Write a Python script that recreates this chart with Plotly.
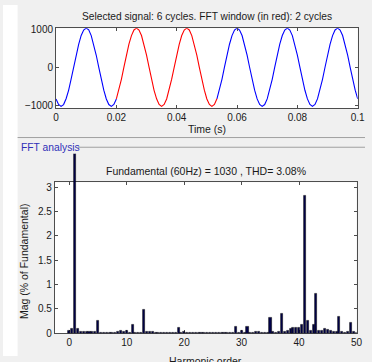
import numpy as np
import plotly.graph_objects as go

# ---------------- data ----------------
# signal sampled every 1/1200 s over 0..0.1 s (6 cycles of 60 Hz)
sample_step = 1.0 / 1200
signal = [
    -838, -978, -1029, -983, -830, -607, -314, 4, 320, 603, 836, 977, 1031, 982, 831, 607, 315, -3, -320, -603,
    -835, -982, -1030, -979, -834, -603, -319, 2, 316, 607, 832, 981, 1030, 978, 835, 602, 320, 1, -316, -607,
    -832, -979, -1031, -981, -835, -606, -316, -2, 319, 604, 835, 979, 1029, 981, 832, 606, 317, -2, -319, -604,
    -836, -981, -1029, -978, -832, -604, -317, 3, 318, 605, 833, 980, 1031, 979, 834, 604, 318, -1, -317, -605,
    -833, -980, -1030, -982, -834, -605, -318, 1, 317, 606, 834, 978, 1030, 980, 833, 605, 316, 2, -318, -606,
    -834, -979, -1031, -980, -833, -606, -317, -1, 318, 604, 833, 981, 1029, 979, 834, 606, 318, -2, -317, -604,
    -834,
]
window_start_idx = 24   # t = 0.02 s
window_end_idx = 64     # t = 0.0533 s (2 cycles)

harmonic_order = [i * 0.5 for i in range(101)]
magnitude = [
    0.06, 0.09, 100.0, 0.09, 0.03, 0.03, 0.03, 0.03, 0.03, 0.04,   # 0 .. 4.5
    0.26, 0.01, 0.01, 0.01, 0.02, 0.01, 0.01, 0.04, 0.05, 0.03,    # 5 .. 9.5
    0.05, 0.02, 0.18, 0.01, 0.01, 0.02, 0.49, 0.04, 0.03, 0.03,    # 10 .. 14.5
    0.02, 0.02, 0.01, 0.01, 0.01, 0.01, 0.01, 0.01, 0.11, 0.02,    # 15 .. 19.5
    0.04, 0.01, 0.01, 0.01, 0.01, 0.01, 0.01, 0.01, 0.01, 0.01,    # 20 .. 24.5
    0.02, 0.01, 0.01, 0.01, 0.01, 0.01, 0.01, 0.01, 0.13, 0.02,    # 25 .. 29.5
    0.06, 0.01, 0.13, 0.02, 0.02, 0.03, 0.03, 0.02, 0.02, 0.02,    # 30 .. 34.5
    0.32, 0.04, 0.02, 0.04, 0.40, 0.04, 0.06, 0.10, 0.12, 0.12,    # 35 .. 39.5
    0.12, 0.18, 2.82, 0.26, 0.05, 0.17, 0.81, 0.05, 0.06, 0.09,    # 40 .. 44.5
    0.07, 0.06, 0.04, 0.04, 0.33, 0.04, 0.02, 0.04, 0.22, 0.04,    # 45 .. 49.5
    0.02,                                                          # 50
]

time_ticks = [0, 0.02, 0.04, 0.06, 0.08, 0.1]
time_ticktext = ["0", "0.02", "0.04", "0.06", "0.08", "0.1"]
signal_ticks = [-1000, 0, 1000]
harm_ticks = [0, 10, 20, 30, 40, 50]
mag_ticks = [0, 0.5, 1, 1.5, 2, 2.5, 3]
mag_ticktext = ["0", "0.5", "1", "1.5", "2", "2.5", "3"]

title_top = "Selected signal: 6 cycles. FFT window (in red): 2 cycles"
title_fft = "Fundamental (60Hz) = 1030 , THD= 3.08%"

# ---------------- figure ----------------
W, H = 372, 362
def px(x):
    return x / W
def py(y):
    return 1 - y / H

t = list(np.arange(len(signal)) * sample_step)
s0, s1 = window_start_idx, window_end_idx

FONT = "Liberation Sans, Arial, sans-serif"
TXT = "#1a1a1a"
AX = "#4d4d4d"

fig = go.Figure()
# blue part before and after the FFT window
fig.add_trace(go.Scatter(x=t[:s0 + 1], y=signal[:s0 + 1], mode="lines",
                         line=dict(color="#0000ff", width=1.1),
                         xaxis="x", yaxis="y", hoverinfo="skip"))
fig.add_trace(go.Scatter(x=t[s1:], y=signal[s1:], mode="lines",
                         line=dict(color="#0000ff", width=1.1),
                         xaxis="x", yaxis="y", hoverinfo="skip"))
# red FFT window
fig.add_trace(go.Scatter(x=t[s0:s1 + 1], y=signal[s0:s1 + 1], mode="lines",
                         line=dict(color="#ff0000", width=1.1),
                         xaxis="x", yaxis="y", hoverinfo="skip"))
# placeholder so the framed FFT subplot (x2/y2) exists
fig.add_trace(go.Scatter(x=[None], y=[None], mode="markers", xaxis="x2", yaxis="y2",
                         hoverinfo="skip"))
# spectrum bars (drawn on taller, hidden y3 with the same scale so the fundamental is cut at the panel)
fig.add_trace(go.Bar(x=harmonic_order, y=magnitude, width=0.36,
                     marker=dict(color="#000048", line=dict(color="#000000", width=0.5)),
                     xaxis="x2", yaxis="y3", hoverinfo="skip"))

axis_common = dict(showline=True, linecolor=AX, linewidth=1, mirror="ticks",
                   ticks="inside", ticklen=3, tickcolor=AX, showgrid=False,
                   zeroline=False, tickfont=dict(family=FONT, size=10, color=TXT))

y2_bottom, y2_top, y3_top = 338.5, 182.7, 153.3
px_per_unit = (y2_bottom - y2_top) / 3.1

fig.update_layout(
    width=W, height=H, margin=dict(l=0, r=0, t=0, b=0),
    paper_bgcolor="#f0f0f0", plot_bgcolor="rgba(0,0,0,0)",
    showlegend=False, bargap=0,
    xaxis=dict(domain=[px(54.5), px(364.5)], range=[0, 0.1], tickvals=time_ticks,
               ticktext=time_ticktext, anchor="y", **axis_common),
    yaxis=dict(domain=[py(106.7), py(24)], range=[-1085, 1025], tickvals=signal_ticks,
               anchor="x", **axis_common),
    xaxis2=dict(domain=[px(53.3), px(363.3)], range=[-2.5, 50], tickvals=harm_ticks,
                anchor="y2", **axis_common),
    yaxis2=dict(domain=[py(y2_bottom), py(y2_top)], range=[0, 3.1], tickvals=mag_ticks,
                ticktext=mag_ticktext, anchor="x2", **axis_common),
    yaxis3=dict(domain=[py(y2_bottom), py(y3_top)],
                range=[0, (y2_bottom - y3_top) / px_per_unit],
                anchor="x2", visible=False),
)

shapes = [
    dict(type="rect", xref="paper", yref="paper", x0=0, x1=px(15), y0=0, y1=1,
         fillcolor="white", line=dict(width=0), layer="below"),
    dict(type="rect", xref="x domain", yref="y domain", x0=0, x1=1, y0=0, y1=1,
         fillcolor="white", line=dict(width=0), layer="below"),
    dict(type="rect", xref="x2 domain", yref="y2 domain", x0=0, x1=1, y0=0, y1=1,
         fillcolor="white", line=dict(width=0), layer="below"),
    dict(type="line", xref="paper", yref="paper", x0=px(15), x1=1, y0=py(136.7), y1=py(136.7),
         line=dict(color="#a0a0a0", width=1)),
    dict(type="line", xref="paper", yref="paper", x0=px(77), x1=1, y0=py(146.7), y1=py(146.7),
         line=dict(color="#a0a0a0", width=1)),
]
fig.update_layout(shapes=shapes)

ann = [
    dict(text=title_top, x=px(209.5), y=py(12), xanchor="center", yanchor="middle",
         font=dict(family=FONT, size=10.2, color=TXT)),
    dict(text="Time (s)", x=px(209.5), y=py(128.3), xanchor="center", yanchor="middle",
         font=dict(family=FONT, size=10.5, color=TXT)),
    dict(text="FFT analysis", x=px(16.5), y=py(147), xanchor="left", yanchor="middle",
         font=dict(family=FONT, size=10.3, color="#3030b8")),
    dict(text=title_fft, x=px(208.3), y=py(171.7), xanchor="center", yanchor="middle",
         font=dict(family=FONT, size=10.5, color=TXT)),
    dict(text="Mag (% of Fundamental)", x=px(21.7), y=py(264), xanchor="center", yanchor="middle",
         textangle=-90, font=dict(family=FONT, size=10.5, color=TXT)),
    dict(text="Harmonic order", x=px(208.3), y=py(355), xanchor="center", yanchor="top",
         yshift=-4, font=dict(family=FONT, size=10.5, color=TXT)),
]
for a in ann:
    a.update(xref="paper", yref="paper", showarrow=False)
fig.update_layout(annotations=ann)

fig.write_html("out.html")
